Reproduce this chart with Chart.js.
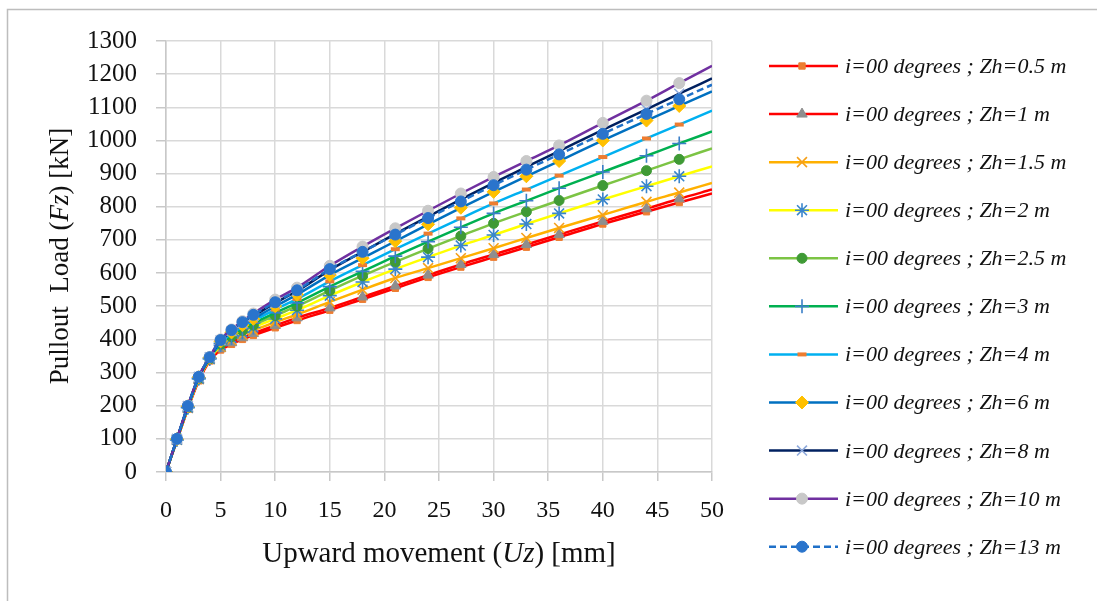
<!DOCTYPE html>
<html>
<head>
<meta charset="utf-8">
<script src="https://cdn.jsdelivr.net/npm/chart.js@4"></script>
<style>
    html, body { margin: 0; padding: 0; background: #fff; }
    #wrap { position: relative; width: 1097px; height: 601px; }
</style>
</head>
<body>
<div id="wrap"><canvas id="pullout-chart" width="1097" height="601"></canvas></div>
<script>
// Upward movement Uz [mm]
const uz = [0, 1, 2, 3, 4, 5, 6, 7, 8, 10, 12, 15, 18, 21, 24, 27, 30, 33, 36, 40, 44, 47, 50];

// Pullout load Fz [kN] per embedment depth Zh
const zh05 = [0, 95, 190, 275, 335, 368, 385, 400, 412, 435, 457, 488, 521, 554, 587, 618, 648, 678, 708, 748, 785, 813, 840];
const zh1 = [0, 96, 192, 278, 338, 372, 390, 405, 418, 442, 465, 495, 528, 561, 594, 626, 656, 686, 716, 756, 794, 824, 852];
const zh15 = [0, 97, 193, 280, 340, 378, 398, 414, 427, 452, 475, 513, 550, 585, 615, 645, 675, 706, 736, 775, 815, 843, 872];
const zh2 = [0, 97, 194, 281, 341, 382, 404, 421, 436, 462, 488, 532, 573, 612, 648, 683, 715, 748, 780, 822, 862, 892, 922];
const zh25 = [0, 98, 195, 283, 342, 385, 408, 427, 443, 472, 500, 547, 592, 634, 674, 712, 750, 785, 819, 864, 909, 943, 976];
const zh3 = [0, 98, 196, 284, 343, 388, 412, 432, 449, 480, 510, 559, 605, 651, 695, 738, 780, 818, 856, 905, 954, 991, 1027];
const zh4 = [0, 99, 197, 285, 344, 391, 417, 438, 456, 490, 522, 575, 624, 672, 719, 765, 810, 852, 894, 950, 1006, 1048, 1090];
const zh6 = [0, 99, 198, 286, 345, 394, 421, 443, 462, 500, 535, 594, 645, 696, 747, 797, 845, 892, 938, 1000, 1060, 1104, 1148];
const zh8 = [0, 100, 199, 287, 346, 397, 425, 449, 470, 510, 546, 609, 664, 718, 770, 822, 872, 920, 968, 1032, 1094, 1141, 1187];
const zh10 = [0, 100, 200, 288, 347, 400, 430, 455, 478, 520, 556, 622, 680, 735, 788, 840, 890, 938, 985, 1053, 1120, 1173, 1225];
const zh13 = [0, 100, 199, 287, 346, 398, 428, 452, 474, 512, 548, 612, 664, 716, 766, 816, 865, 912, 958, 1020, 1080, 1124, 1168];

const depthLabels = ['0.5', '1', '1.5', '2', '2.5', '3', '4', '6', '8', '10', '13'];
const xTicks = [0, 5, 10, 15, 20, 25, 30, 35, 40, 45, 50];
const yTicks = [0, 100, 200, 300, 400, 500, 600, 700, 800, 900, 1000, 1100, 1200, 1300];

document.addEventListener('DOMContentLoaded', () => {
    const ctx = document.getElementById('pullout-chart').getContext('2d');
    const SERIF = "'Liberation Serif', 'DejaVu Serif', serif";

    // line colour, marker style, marker colour, marker size
    const styles = [
        { line: '#ff0000', point: 'rect', mark: '#ed7d31', r: 4.5 },
        { line: '#ff0000', point: 'triangle', mark: '#8e8e8e', r: 6 },
        { line: '#ffb000', point: 'crossRot', mark: '#f5a01a', r: 7, bw: 1.6 },
        { line: '#ffff00', point: 'star', mark: '#3a86cc', r: 7, bw: 1.6 },
        { line: '#7cc444', point: 'circle', mark: '#3f9a35', r: 5 },
        { line: '#00b050', point: 'cross', mark: '#3a7fc8', r: 7, bw: 1.6 },
        { line: '#00b0f0', point: 'line', mark: '#ed7d31', r: 4.5, bw: 4 },
        { line: '#0070c0', point: 'rectRot', mark: '#ffc000', r: 6.5 },
        { line: '#002060', point: 'crossRot', mark: '#8faadc', r: 7, bw: 1.6 },
        { line: '#7030a0', point: 'circle', mark: '#c8c8c8', r: 5.5 },
        { line: '#1f70c8', point: 'circle', mark: '#2a74cc', r: 5.5, dash: [7, 4] }
    ];
    const series = [zh05, zh1, zh15, zh2, zh25, zh3, zh4, zh6, zh8, zh10, zh13];

    const datasets = series.map((vals, i) => {
        const s = styles[i];
        const filled = !s.bw;
        return {
            label: 'i=00 degrees ; Zh=' + depthLabels[i] + ' m',
            data: vals.map((v, k) => ({ x: uz[k], y: v })),
            borderColor: s.line,
            borderWidth: 2.5,
            borderDash: s.dash || [],
            cubicInterpolationMode: 'monotone',
            pointStyle: s.point,
            pointRadius: c => (c.dataIndex === uz.length - 1 ? 0 : s.r),
            pointBackgroundColor: filled ? s.mark : 'transparent',
            pointBorderColor: s.mark,
            pointBorderWidth: s.bw || 1,
            order: series.length - 1 - i,
            _style: s
        };
    });

    // axis titles with italic parts, legend with line + marker, outer frame
    const decorPlugin = {
        id: 'decor',
        beforeDraw(chart) {
            const c = chart.ctx;
            c.save();
            c.fillStyle = '#fff';
            c.fillRect(0, 0, chart.width, chart.height);
            c.strokeStyle = '#bdbdbd';
            c.lineWidth = 1.5;
            c.beginPath();
            c.moveTo(7.5, chart.height);
            c.lineTo(7.5, 9.5);
            c.lineTo(chart.width, 9.5);
            c.stroke();
            c.restore();
        },
        afterDraw(chart) {
            const c = chart.ctx;
            c.save();
            c.fillStyle = '#111';
            c.textBaseline = 'alphabetic';

            const drawParts = (parts, size) => {
                let total = 0;
                parts.forEach(p => {
                    c.font = (p.it ? 'italic ' : '') + size + 'px ' + SERIF;
                    p.w = c.measureText(p.t).width;
                    total += p.w;
                });
                let x = -total / 2;
                parts.forEach(p => {
                    c.font = (p.it ? 'italic ' : '') + size + 'px ' + SERIF;
                    c.fillText(p.t, x, 0);
                    x += p.w;
                });
            };

            // x title
            c.save();
            c.translate(439, 562);
            drawParts([{ t: 'Upward movement (' }, { t: 'Uz', it: true }, { t: ') [mm]' }], 29);
            c.restore();

            // y title
            c.save();
            c.translate(68, 256);
            c.rotate(-Math.PI / 2);
            drawParts([{ t: 'Pullout  Load (' }, { t: 'Fz', it: true }, { t: ') [kN]' }], 27);
            c.restore();

            // legend
            chart.data.datasets.forEach((ds, i) => {
                const s = ds._style;
                const y = 66 + i * 48.07;
                c.save();
                c.strokeStyle = s.line;
                c.lineWidth = 2.5;
                c.setLineDash(s.dash || []);
                c.beginPath();
                c.moveTo(769, y);
                c.lineTo(838, y);
                c.stroke();
                c.setLineDash([]);
                c.fillStyle = s.mark;
                c.strokeStyle = s.mark;
                c.lineWidth = s.bw || 1;
                Chart.helpers.drawPoint(c, {
                    pointStyle: s.point,
                    radius: s.r,
                    borderWidth: s.bw || 1,
                    rotation: 0
                }, 802, y);
                c.restore();
                c.font = 'italic 22px ' + SERIF;
                c.fillStyle = '#111';
                c.fillText(ds.label, 845, y + 7);
            });
            c.restore();
        }
    };

    new Chart(ctx, {
        type: 'line',
        data: { datasets },
        options: {
            responsive: false,
            animation: false,
            events: [],
            layout: { padding: { left: 0, top: 41, right: 385, bottom: 0 } },
            plugins: {
                legend: { display: false },
                tooltip: { enabled: false }
            },
            scales: {
                x: {
                    type: 'linear',
                    min: 0,
                    max: 50,
                    afterFit: s => { s.height = 129; },
                    afterBuildTicks: s => { s.ticks = xTicks.map(v => ({ value: v })); },
                    grid: { color: '#d9d9d9', lineWidth: 1.5, tickLength: 9, tickColor: '#c8c8c8' },
                    border: { color: '#c8c8c8', width: 1.5 },
                    ticks: { color: '#111', padding: 15, font: { family: SERIF, size: 24 }, callback: v => String(v) }
                },
                y: {
                    type: 'linear',
                    min: 0,
                    max: 1300,
                    afterFit: s => { s.width = 166; },
                    afterBuildTicks: s => { s.ticks = yTicks.map(v => ({ value: v })); },
                    grid: { color: '#d9d9d9', lineWidth: 1.5, tickLength: 10, tickColor: '#c8c8c8' },
                    border: { color: '#c8c8c8', width: 1.5 },
                    ticks: { color: '#111', padding: 19, font: { family: SERIF, size: 25 }, callback: v => String(v) }
                }
            }
        },
        plugins: [decorPlugin]
    });
});
</script>
</body>
</html>
